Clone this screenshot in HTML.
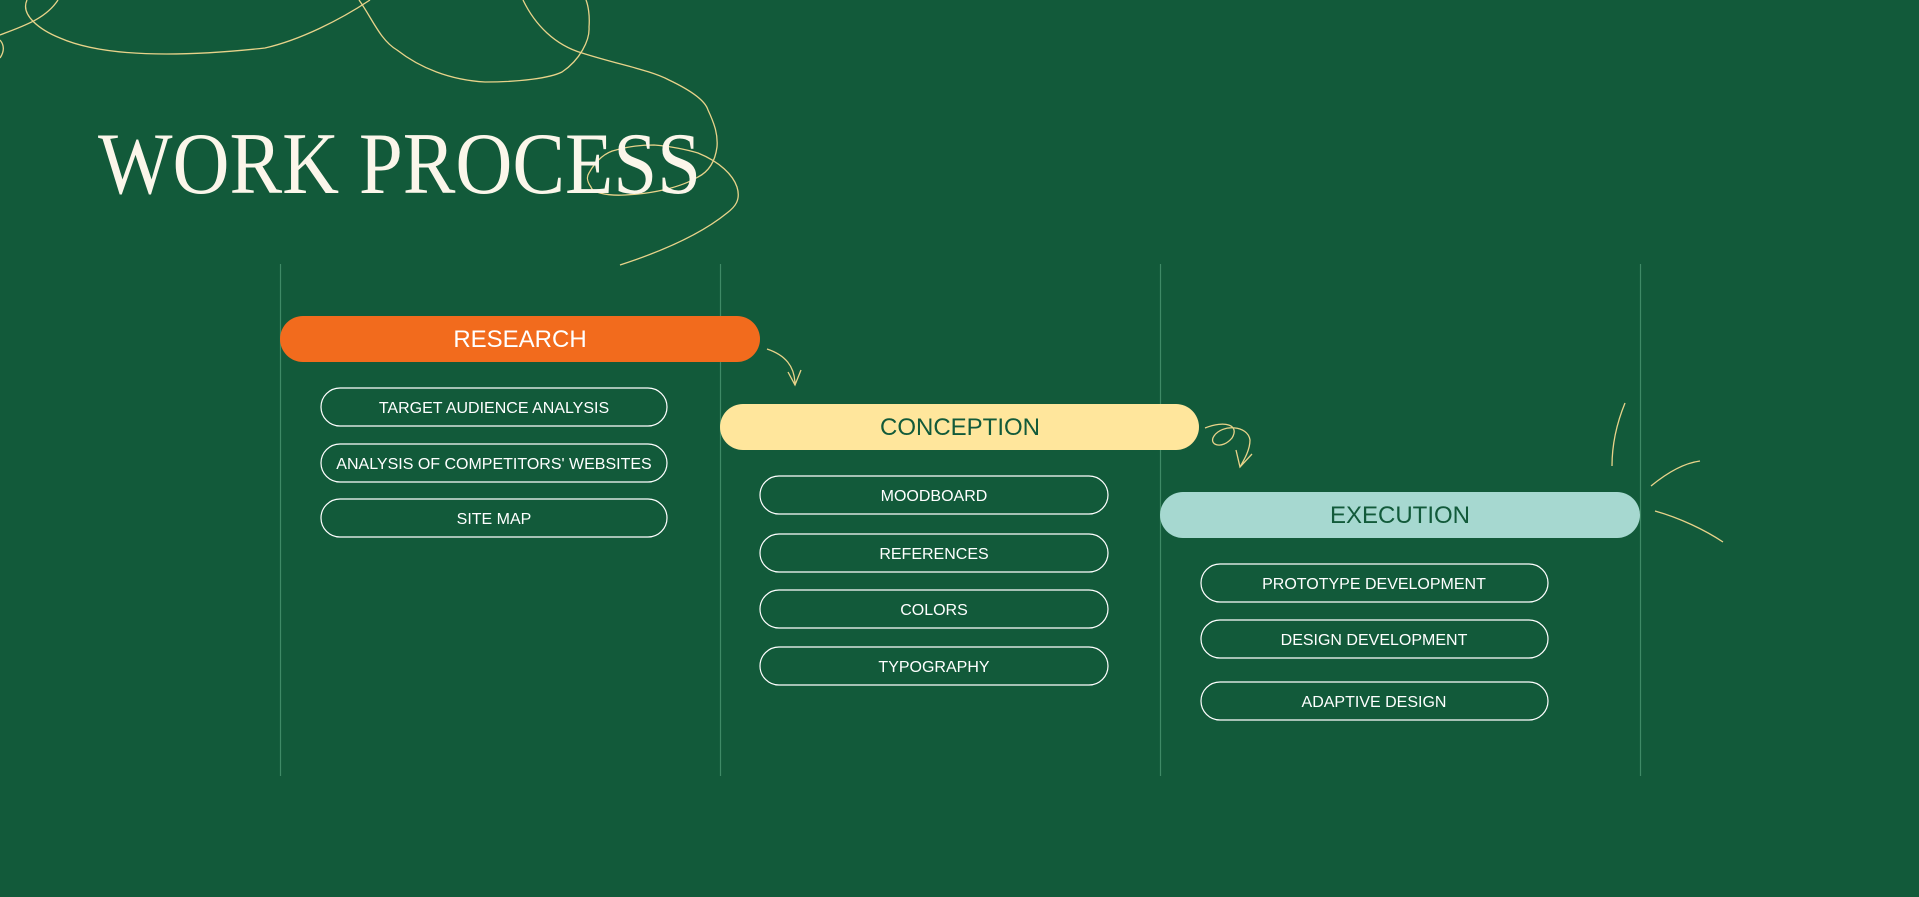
<!DOCTYPE html>
<html><head><meta charset="utf-8"><style>
html,body{margin:0;padding:0;background:#125a3a;}
svg{display:block;}
</style></head><body>
<svg width="1919" height="897" viewBox="0 0 1919 897" xmlns="http://www.w3.org/2000/svg">
<rect width="1919" height="897" fill="#125a3a"/>
<g stroke="#3f8a66" stroke-width="1.2">
<line x1="280.5" y1="264" x2="280.5" y2="776"/>
<line x1="720.5" y1="264" x2="720.5" y2="776"/>
<line x1="1160.5" y1="264" x2="1160.5" y2="776"/>
<line x1="1640.5" y1="264" x2="1640.5" y2="776"/>
</g>
<g fill="none" stroke="#e8d38a" stroke-width="1.3">
<path d="M0,35 C20,27 45,20 58,0"/>
<path d="M0,40 C5,46 4,52 0,58"/>
<path d="M27,0 C20,15 40,30 60,38 C110,60 200,55 265,48 C300,40 340,20 370,0"/>
<path d="M359,0 C372,18 380,40 397,50 C420,68 450,80 485,82 C520,82 550,78 562,72 C580,60 590,40 589,27 C590,15 588,5 586,0"/>
<path d="M523,0 C535,25 555,45 582,53 C620,65 650,70 669,80 C690,90 705,100 708,110 C715,125 718,135 717,147 C715,162 708,172 698,177 C680,188 650,194 625,195 C605,196 592,192 591,187 C586,180 587,176 589,173 C596,160 606,152 616,150 C630,146 645,145 654,145 C670,146 688,150 698,153 C720,162 733,175 737,187 C741,200 735,207 727,213 C700,235 660,252 620,265"/>
<path d="M767,349 C785,355 795,366 795,385"/>
<path d="M788,372 L795,385 L801,370"/>
<path d="M1205,428 C1225,420 1240,425 1232,438 C1222,450 1208,445 1214,436 C1222,424 1248,425 1250,440 C1250,450 1244,460 1240,467"/>
<path d="M1236,450 L1240,467 L1252,454"/>
<path d="M1625,403 C1616,425 1612,445 1612,466"/>
<path d="M1651,486 C1668,472 1685,463 1700,461"/>
<path d="M1655,511 C1680,518 1705,530 1723,542"/>
</g>
<text x="98" y="193" font-family="Liberation Serif, serif" font-size="88" fill="#fbf6ea" textLength="603" lengthAdjust="spacingAndGlyphs">WORK PROCESS</text>

<rect x="280" y="316" width="480" height="46" rx="23" fill="#f26b1d"/>
<text x="520" y="347" text-anchor="middle" font-family="Liberation Sans, sans-serif" font-size="24" fill="#ffffff">RESEARCH</text>
<rect x="720" y="404" width="479" height="46" rx="23" fill="#ffe69c"/>
<text x="960" y="435" text-anchor="middle" font-family="Liberation Sans, sans-serif" font-size="24" fill="#125a3a">CONCEPTION</text>
<rect x="1160" y="492" width="480" height="46" rx="23" fill="#a6d8d0"/>
<text x="1400" y="523" text-anchor="middle" font-family="Liberation Sans, sans-serif" font-size="24" fill="#125a3a">EXECUTION</text>

<g fill="none" stroke="#ffffff" stroke-width="1.2">
<rect x="321" y="388" width="346" height="38" rx="19"/>
<rect x="321" y="444" width="346" height="38" rx="19"/>
<rect x="321" y="499" width="346" height="38" rx="19"/>
<rect x="760" y="476" width="348" height="38" rx="19"/>
<rect x="760" y="534" width="348" height="38" rx="19"/>
<rect x="760" y="590" width="348" height="38" rx="19"/>
<rect x="760" y="647" width="348" height="38" rx="19"/>
<rect x="1201" y="564" width="347" height="38" rx="19"/>
<rect x="1201" y="620" width="347" height="38" rx="19"/>
<rect x="1201" y="682" width="347" height="38" rx="19"/>
</g>
<g font-family="Liberation Sans, sans-serif" font-size="16" fill="#ffffff" text-anchor="middle">
<text x="494" y="413">TARGET AUDIENCE ANALYSIS</text>
<text x="494" y="469">ANALYSIS OF COMPETITORS' WEBSITES</text>
<text x="494" y="524">SITE MAP</text>
<text x="934" y="501">MOODBOARD</text>
<text x="934" y="559">REFERENCES</text>
<text x="934" y="615">COLORS</text>
<text x="934" y="672">TYPOGRAPHY</text>
<text x="1374" y="589">PROTOTYPE DEVELOPMENT</text>
<text x="1374" y="645">DESIGN DEVELOPMENT</text>
<text x="1374" y="707">ADAPTIVE DESIGN</text>
</g>
</svg>
</body></html>
